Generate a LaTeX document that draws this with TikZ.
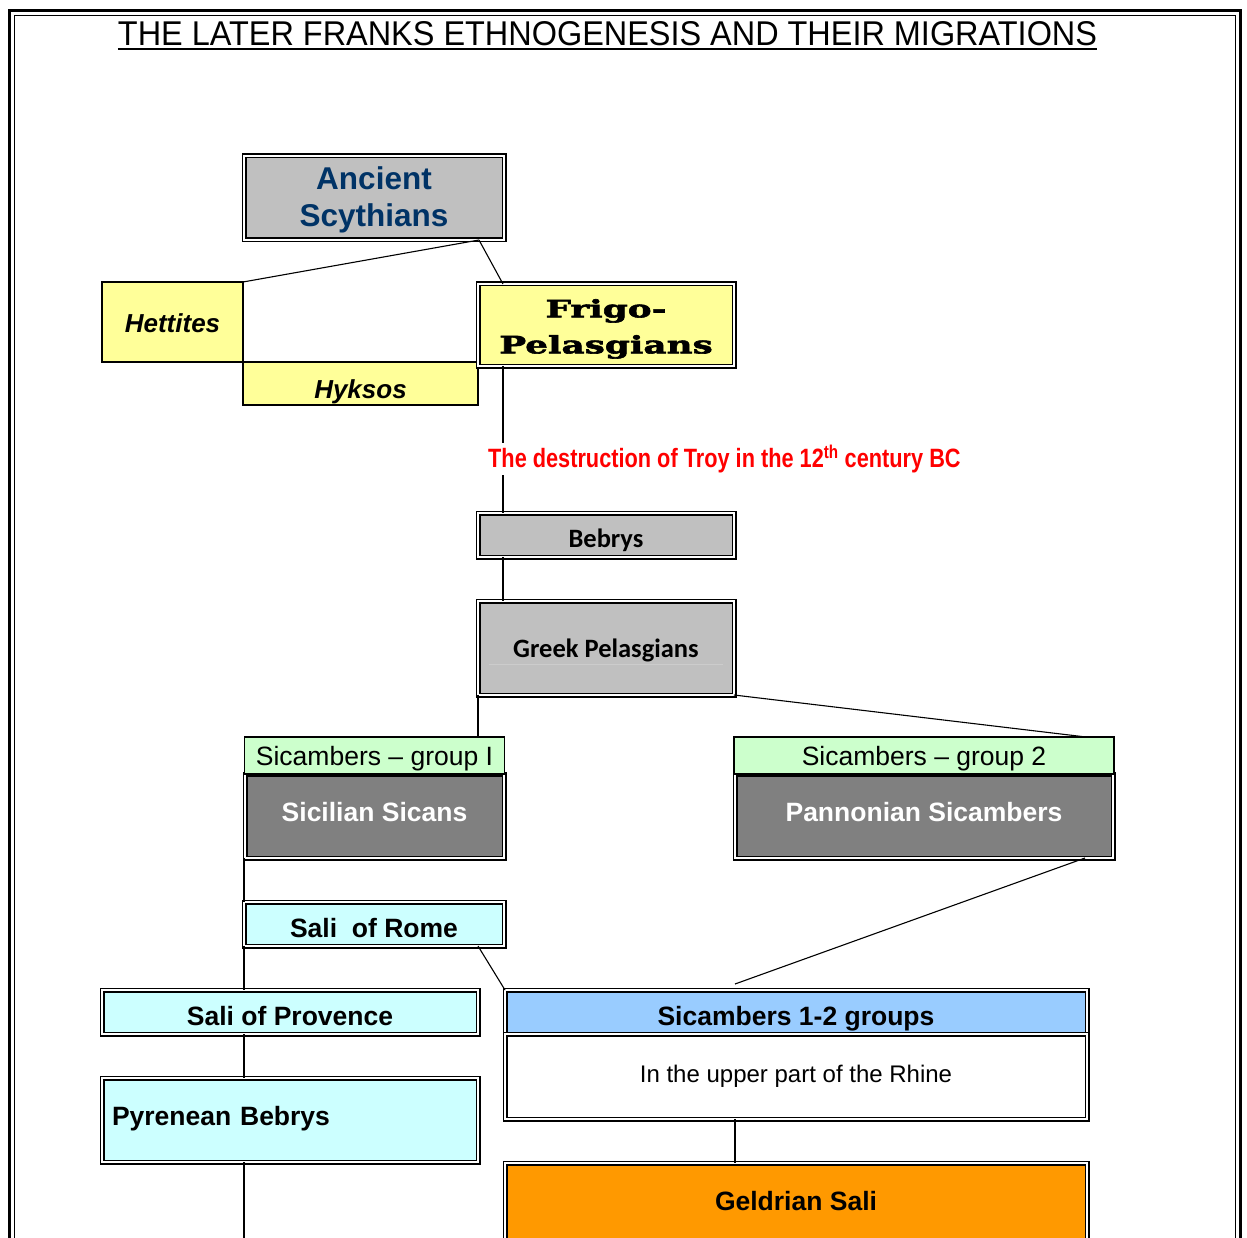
\documentclass[tikz,border=0pt]{standalone}
\usepackage{fontspec}
\usepackage{graphicx}
\setmainfont{Liberation Sans}
\newfontfamily\narrowfont[FakeStretch=0.82]{Liberation Sans}
\newfontfamily\calfont{Carlito}
\newfontfamily\slabfont[FakeStretch=1.49, FakeBold=2.5]{DejaVu Serif}
\usetikzlibrary{positioning,calc}
\definecolor{cgris}{HTML}{C0C0C0}
\definecolor{cgrisosc}{HTML}{808080}
\definecolor{cazul}{HTML}{003366}
\definecolor{camar}{HTML}{FFFF99}
\definecolor{cverde}{HTML}{CCFFCC}
\definecolor{ccian}{HTML}{CCFFFF}
\definecolor{ccielo}{HTML}{99CCFF}
\definecolor{cnaranja}{HTML}{FF9900}
\definecolor{crojo}{HTML}{FF0000}
\tikzset{
  dcaja/.style={rectangle, draw, double=white, double distance=1.2pt, line width=1.9pt,
    inner sep=0pt, outer sep=0pt, align=center},
  scaja/.style={rectangle, draw, line width=1.6pt, inner sep=0pt, outer sep=0pt, align=center},
  enlace/.style={line width=1.1pt},
  etq/.style={font=\fontsize{26.5}{30}\selectfont\bfseries},
  lin/.style 2 args={text height=#1pt, text depth=#2pt},
}

\begin{document}
\begin{tikzpicture}[x=1pt, y=-1pt]
  \useasboundingbox (0,0) rectangle (1247,1238);
  \clip (0,0) rectangle (1247,1238);
  % page frame
  \draw[line width=3pt] (9.5,10.5) rectangle (1240.5,1260);
  \draw[line width=1pt] (14.5,15.5) rectangle (1235.5,1260);
  % title
  \node[anchor=base, inner sep=0pt] (titulo) at (607.5,46)
    {\resizebox{979pt}{24pt}{THE LATER FRANKS ETHNOGENESIS AND THEIR MIGRATIONS}};
  \draw[line width=2pt] ([yshift=-3.5pt]titulo.base west) -- ([yshift=-3.5pt]titulo.base east);

  % upper part
  \node[dcaja, fill=cgris, minimum width=260pt, minimum height=84pt, text=cazul,
    font=\fontsize{31.5}{36.5}\selectfont\bfseries] (escitas) at (374,198) {\rule{0pt}{27pt}Ancient\\Scythians};
  \node[scaja, fill=camar, minimum width=141pt, minimum height=80pt, lin={51}{29},
    font=\fontsize{26}{30}\selectfont\bfseries\itshape] (hetitas) at (172.5,322) {Hettites};
  \node[scaja, fill=camar, minimum width=235pt, minimum height=43pt, lin={36}{7},
    font=\fontsize{26}{30}\selectfont\bfseries\itshape, below right=0pt and 0pt of hetitas] (hicsos) {Hyksos};
  \node[dcaja, fill=camar, minimum width=256pt, minimum height=82pt,
    font=\fontsize{24}{36}\selectfont\slabfont\bfseries] (frigo) at (606,325) {\rule{0pt}{26pt}Frigo-\\Pelasgians};
  \node[dcaja, fill=cgris, minimum width=256pt, minimum height=44pt, lin={34}{10},
    font=\fontsize{26.5}{30}\selectfont\calfont\bfseries] (bebrys) at (606,535) {Bebrys};
  \node[dcaja, fill=cgris, minimum width=256pt, minimum height=94pt, lin={56}{38},
    font=\fontsize{26.5}{30}\selectfont\calfont\bfseries] (griegos) at (606,648) {Greek Pelasgians};
  \draw[white!80!black, line width=0.6pt] ([xshift=11pt, yshift=-16pt]griegos.west)
    -- ([xshift=-11pt, yshift=-16pt]griegos.east);

  % two groups
  \node[dcaja, fill=cgrisosc, minimum width=259pt, minimum height=84pt, lin={47}{37}, etq, text=white]
    (sicanos) at (374.5,816) {Sicilian Sicans};
  \node[scaja, fill=cverde, minimum width=260pt, minimum height=37pt, lin={28}{9},
    font=\fontsize{26.5}{30}\selectfont, above=0pt of sicanos] (grupo1) {Sicambers -- group I};
  \node[dcaja, fill=cgrisosc, minimum width=378pt, minimum height=84pt, lin={47}{37}, etq, text=white]
    (panonios) at (924,816) {Pannonian Sicambers};
  \node[scaja, fill=cverde, minimum width=380pt, minimum height=37pt, lin={28}{9},
    font=\fontsize{26.5}{30}\selectfont, above=0pt of panonios] (grupo2) {Sicambers -- group 2};

  % lower part
  \node[dcaja, fill=ccian, minimum width=260pt, minimum height=44pt, lin={35}{9}, etq] (roma) at (374,924) {Sali~ of Rome};
  \node[dcaja, fill=ccian, minimum width=376pt, minimum height=44pt, lin={35}{9}, etq] (provenza) at (290,1012) {Sali of Provence};
  \node[dcaja, fill=ccian, text width=356pt, inner xsep=10pt, minimum height=84pt, lin={47}{37}, align=left, etq]
    (pirineos) at (290,1120) {Pyrenean Bebrys};
  \node[dcaja, fill=ccielo, minimum width=582pt, minimum height=44pt, lin={35}{9}, etq] (sicambros) at (796,1012) {Sicambers 1-2 groups};
  \node[dcaja, fill=white, minimum width=582pt, minimum height=85pt, lin={48}{37},
    font=\fontsize{24}{28}\selectfont, below=0pt of sicambros] (rin) {In the upper part of the Rhine};
  \node[dcaja, fill=cnaranja, minimum width=582pt, minimum height=82pt, lin={47}{35}, etq] (geldria) at (796,1204) {Geldrian Sali};

  % connectors
  \coordinate (finpan) at ([xshift=-61pt, yshift=6pt]sicambros.north);
  \coordinate (fondo) at (244,1250);
  \draw[enlace] ([xshift=-25pt]escitas.south east) -- (hetitas.north east);
  \draw[enlace] ([xshift=-25pt]escitas.south east) -- ([xshift=25pt]frigo.north west);
  \draw[enlace] ([xshift=25pt]frigo.south west) -- ([xshift=25pt]bebrys.north west);
  \draw[enlace] ([xshift=25pt]bebrys.south west) -- ([xshift=25pt]griegos.north west);
  \draw[enlace] (griegos.south west) -- (griegos.south west |- grupo1.north);
  \draw[enlace] (griegos.south east) -- ([xshift=-28pt]grupo2.north east);
  \draw[enlace] ([xshift=-28pt]panonios.south east) -- (finpan);
  \draw[enlace] ([xshift=-26pt]roma.south east) -- (sicambros.north west);
  \draw[enlace] (roma.north west |- sicanos.south) -- (roma.north west);
  \draw[enlace] (roma.south west) -- (roma.south west |- provenza.north);
  \draw[enlace] (roma.south west |- provenza.south) -- (roma.south west |- pirineos.north);
  \draw[enlace] (roma.south west |- pirineos.south) -- (fondo);
  \draw[enlace] ([xshift=-61pt]rin.south) -- ([xshift=-61pt]geldria.north);

  % Troy
  \node[anchor=west, fill=white, inner sep=2pt, text=crojo,
    font=\fontsize{26.5}{30}\selectfont\narrowfont\bfseries] (troya) at (486,459)
    {The destruction of Troy in the 12\textsuperscript{th} century BC};
\end{tikzpicture}
\end{document}
